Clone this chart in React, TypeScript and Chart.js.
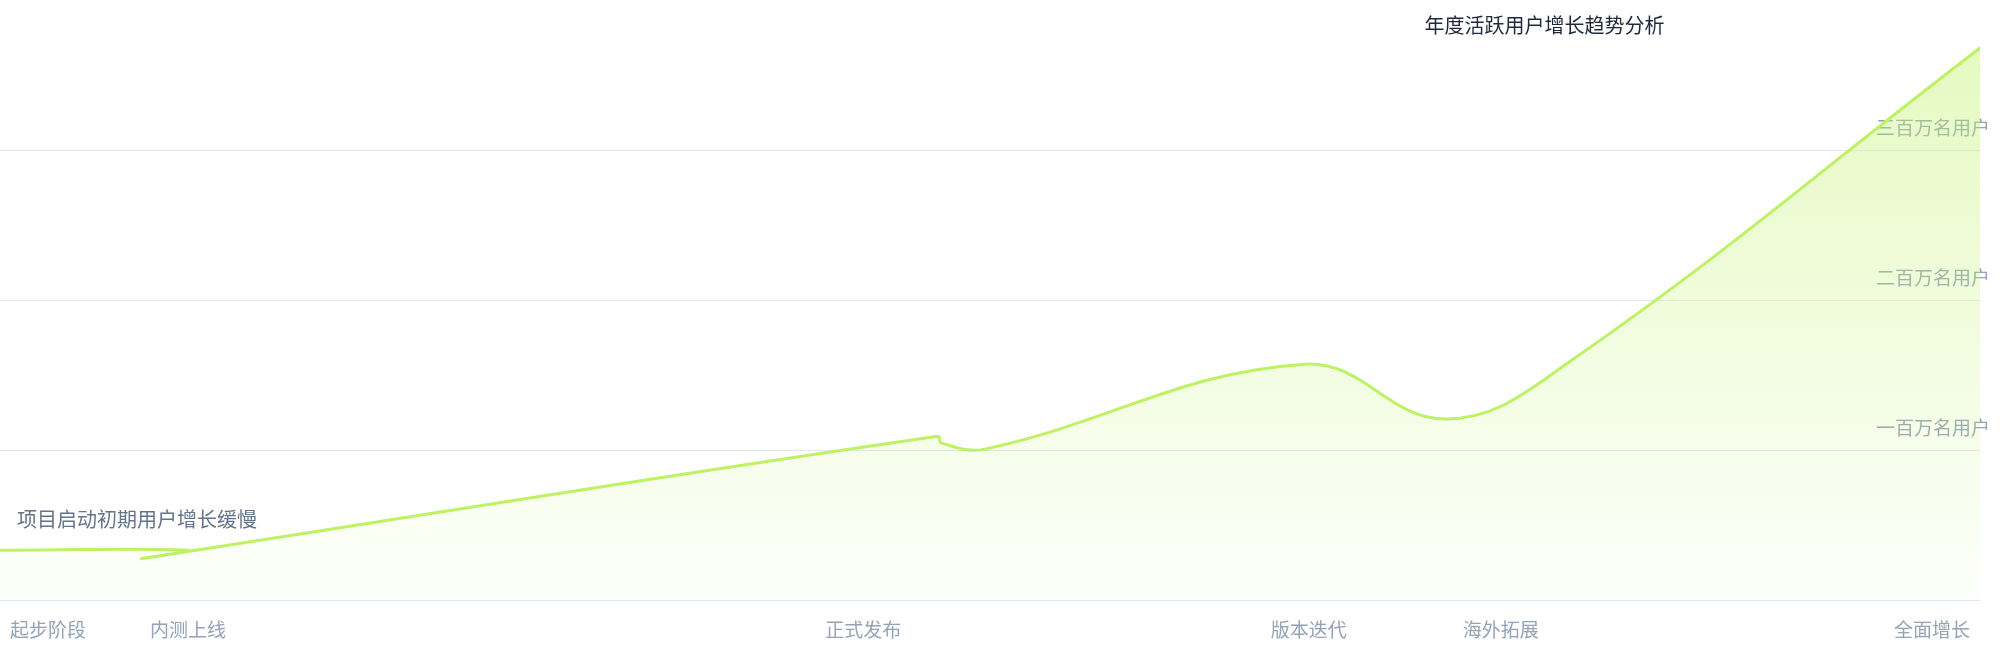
import { useEffect, useRef } from "react";
import { Chart, registerables } from "chart.js";

Chart.register(...registerables);

// milestone labels on the x axis and where they sit (x in weeks)
const xLabels = ["起步阶段", "内测上线", "正式发布", "版本迭代", "海外拓展", "全面增长"];
const xTickValues = [0.5, 9.5, 43.6, 66.1, 75.8, 99.5];

// y axis labels (millions of users)
const yLabels = ["", "一百万名用户", "二百万名用户", "三百万名用户"];

// series (x = week, y = users in millions)
const weeks = [0, 9.5, 7.25, 47.35, 47.55, 49.75, 65.9, 73, 79.25, 100];
const users = [0.333, 0.333, 0.28, 1.093, 1.047, 1.007, 1.573, 1.207, 1.587, 3.68];

const chartTitle = "年度活跃用户增长趋势分析";
const startNote = "项目启动初期用户增长缓慢";

const LIME = "#bef264";
const FONT = "'Noto Sans CJK SC', 'Noto Sans', sans-serif";

const textPlugin = {
  id: "texts",
  afterDraw(chart: any) {
    const { ctx, chartArea, scales } = chart;
    ctx.save();
    ctx.font = `20px ${FONT}`;
    ctx.textBaseline = "middle";
    // title near the top right
    ctx.fillStyle = "#1e293b";
    ctx.textAlign = "center";
    ctx.fillText(chartTitle, chartArea.left + chartArea.width * 0.78, 25);
    // note above the first point
    ctx.fillStyle = "#64748b";
    ctx.textAlign = "left";
    ctx.fillText(startNote, chartArea.left + 17, scales.y.getPixelForValue(users[0]) - 31);
    ctx.restore();
  },
};

export default function App() {
  const canvasRef = useRef<HTMLCanvasElement>(null);
  const chartRef = useRef<Chart | null>(null);

  useEffect(() => {
    if (!canvasRef.current) return;
    if (chartRef.current) chartRef.current.destroy();

    chartRef.current = new Chart(canvasRef.current, {
      type: "line",
      data: {
        datasets: [
          {
            data: weeks.map((w, i) => ({ x: w, y: users[i] })),
            borderColor: LIME,
            borderWidth: 3,
            borderCapStyle: "round",
            tension: 0.4,
            pointRadius: 0,
            fill: "origin",
            backgroundColor: (c: any) => {
              const { chart } = c;
              const area = chart.chartArea;
              if (!area) return "rgba(190,242,100,0.2)";
              const g = chart.ctx.createLinearGradient(0, area.top, 0, area.bottom);
              g.addColorStop(0, "rgba(190,242,100,0.4)");
              g.addColorStop(1, "rgba(190,242,100,0.03)");
              return g;
            },
          },
        ],
      },
      options: {
        responsive: true,
        maintainAspectRatio: false,
        animation: false,
        layout: { padding: { top: 45, bottom: 19, left: 0, right: 0 } },
        plugins: {
          legend: { display: false },
          title: { display: false },
          tooltip: { enabled: false },
        },
        scales: {
          x: {
            type: "linear",
            min: 0,
            max: 100,
            // hidden tick marks only push the labels down
            grid: { display: false, drawTicks: true, tickLength: 18 },
            border: { display: false },
            afterBuildTicks: (scale: any) => {
              scale.ticks = xTickValues.map((v) => ({ value: v }));
            },
            ticks: {
              autoSkip: false,
              maxRotation: 0,
              align: "inner",
              padding: 0,
              color: "#94a3b8",
              font: { family: FONT, size: 19 },
              callback: (_v: any, i: number) => xLabels[i],
            },
          },
          y: {
            position: "right",
            min: 0,
            max: 3.7,
            grid: { color: "#e2e8f0", lineWidth: 1, drawTicks: false },
            border: { display: false },
            ticks: {
              stepSize: 1,
              includeBounds: false,
              mirror: true,
              padding: 10,
              labelOffset: -22,
              color: "#94a3b8",
              font: { family: FONT, size: 19 },
              callback: (v: any) => yLabels[Math.round(Number(v))] ?? "",
            },
          },
        },
      },
      plugins: [textPlugin],
    } as any);

    return () => {
      if (chartRef.current) {
        chartRef.current.destroy();
        chartRef.current = null;
      }
    };
  }, []);

  return (
    <div
      style={{
        position: "fixed",
        left: 0,
        top: 0,
        width: "2000px",
        height: "660px",
        background: "white",
      }}
    >
      <canvas ref={canvasRef} />
    </div>
  );
}
